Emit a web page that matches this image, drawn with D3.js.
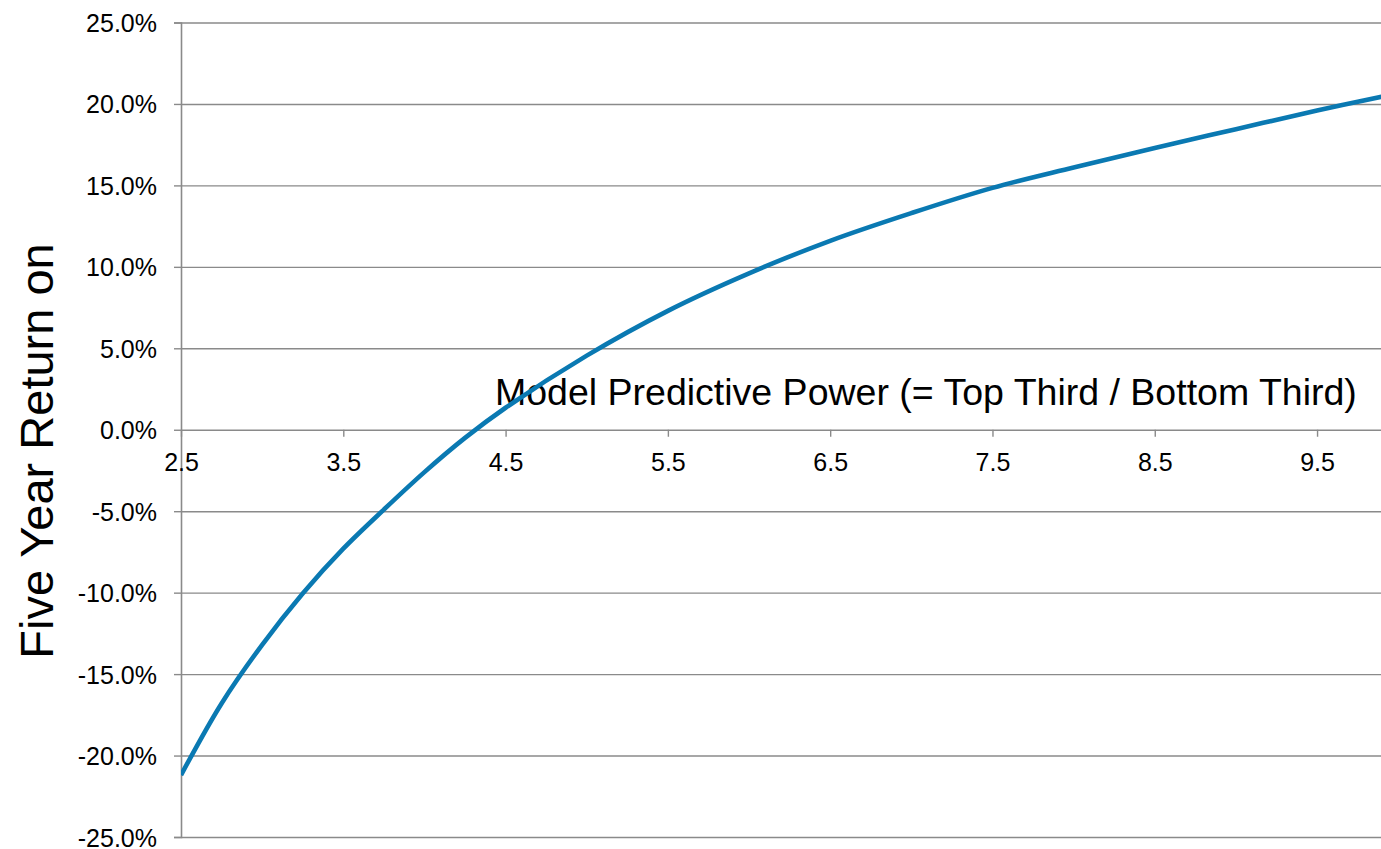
<!DOCTYPE html>
<html>
<head>
<meta charset="utf-8">
<script src="https://cdn.jsdelivr.net/npm/d3@7"></script>
<style>
  html, body { margin: 0; padding: 0; background: #ffffff; }
  svg { display: block; font-family: "Liberation Sans", Arial, sans-serif; }
</style>
</head>
<body>
<svg id="chart" width="1381" height="849"></svg>
<script>
// Predictive power ratio (top third / bottom third) and five-year return, %
const powerRatio = [2.5, 2.75, 3.0, 3.25, 3.5, 3.75, 4.0, 4.25, 4.5, 5.0, 5.5, 6.0, 6.5, 7.0, 7.5, 8.0, 8.5, 9.0, 9.5, 9.9];
const fiveYearReturn = [-21.2, -16.8, -13.2, -10.05, -7.3, -4.9, -2.6, -0.5, 1.35, 4.55, 7.3, 9.6, 11.6, 13.3, 14.85, 16.1, 17.3, 18.45, 19.6, 20.45];

const xTicks = [2.5, 3.5, 4.5, 5.5, 6.5, 7.5, 8.5, 9.5];
const yTicks = [-25, -20, -15, -10, -5, 0, 5, 10, 15, 20, 25];

const yTitle = "Five Year Return on";
const xTitle = "Model Predictive Power (= Top Third / Bottom Third)";

const svg = d3.select("#chart");
const W = 1381, H = 849;
const plot = { left: 181, right: 1381, top: 22.5, bottom: 837 };

const x = d3.scaleLinear().domain([2.5, 9.894]).range([plot.left, plot.right]);
const y = d3.scaleLinear().domain([-25, 25]).range([plot.bottom, plot.top]);

const grid = "#8a8a8a";

// horizontal gridlines with left tick marks
const yAxis = d3.axisLeft(y)
  .tickValues(yTicks)
  .tickSize(7)
  .tickFormat(d => d.toFixed(1) + "%");

const gy = svg.append("g")
  .attr("transform", `translate(${plot.left},0)`)
  .call(yAxis);
gy.select(".domain").attr("stroke", grid).attr("stroke-width", 1.6);
gy.selectAll(".tick line").attr("stroke", grid).attr("stroke-width", 1.4);
gy.selectAll(".tick text")
  .attr("x", -24)
  .attr("dy", "0.36em")
  .attr("fill", "#000")
  .style("font-size", "25px");
gy.selectAll(".tick").append("line")
  .attr("x1", 0).attr("x2", plot.right - plot.left)
  .attr("stroke", grid).attr("stroke-width", 1.4);

// horizontal axis crossing at zero
const xAxis = d3.axisBottom(x)
  .tickValues(xTicks)
  .tickSize(7)
  .tickFormat(d => d.toFixed(1));

const gx = svg.append("g")
  .attr("transform", `translate(0,${y(0)})`)
  .call(xAxis);
gx.select(".domain").remove();
gx.selectAll(".tick line").attr("stroke", grid).attr("stroke-width", 1.4);
gx.selectAll(".tick text")
  .attr("y", 41)
  .attr("dy", 0)
  .attr("fill", "#000")
  .style("font-size", "25px");

// axis titles
svg.append("text")
  .attr("transform", `translate(53,451) rotate(-90)`)
  .attr("text-anchor", "middle")
  .style("font-size", "47px")
  .attr("fill", "#000")
  .text(yTitle);

svg.append("text")
  .attr("x", 495)
  .attr("y", 405)
  .style("font-size", "37.5px")
  .attr("fill", "#000")
  .text(xTitle);

// return curve
const pts = powerRatio.map((p, i) => [p, fiveYearReturn[i]]);
svg.append("clipPath").attr("id", "plotClip")
  .append("rect").attr("x", plot.left).attr("y", 0)
  .attr("width", plot.right - plot.left).attr("height", H);

svg.append("path")
  .datum(pts)
  .attr("clip-path", "url(#plotClip)")
  .attr("fill", "none")
  .attr("stroke", "#0a79b2")
  .attr("stroke-width", 4.6)
  .attr("stroke-linecap", "butt")
  .attr("d", d3.line().x(d => x(d[0])).y(d => y(d[1])).curve(d3.curveCatmullRom.alpha(0.5)));
</script>
</body>
</html>
